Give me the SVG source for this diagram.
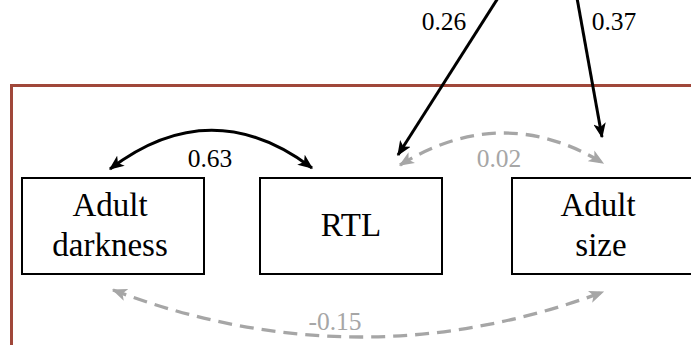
<svg xmlns="http://www.w3.org/2000/svg" width="691" height="345" viewBox="0 0 691 345">
<style>
.box{fill:#fff;stroke:#000;stroke-width:2}
.t{font-size:33px;fill:#000;text-anchor:middle}
.lbl{font-size:25.5px;fill:#000;text-anchor:middle}
.lg{fill:#a6a6a6}
.solid{fill:none;stroke:#000;stroke-width:3}
.dash{fill:none;stroke:#a6a6a6;stroke-width:3.3;stroke-dasharray:14 8}
</style>
<defs>
<marker id="ab" viewBox="0 0 12 10" refX="11" refY="5" markerWidth="5" markerHeight="4.2" orient="auto-start-reverse" markerUnits="strokeWidth">
<path d="M0,0 L12,5 L0,10 L3,5 Z" fill="#000"/>
</marker>
<marker id="ag" viewBox="0 0 12 10" refX="11" refY="5" markerWidth="4.6" markerHeight="3.9" orient="auto-start-reverse" markerUnits="strokeWidth">
<path d="M0,0 L12,5 L0,10 L3,5 Z" fill="#a6a6a6"/>
</marker>
</defs>
<g id="frame"><path d="M11.5,345 V85.5 H691" fill="none" stroke="#a0473a" stroke-width="3"/></g>
<g id="connectors">
<path class="solid" d="M498,-2 L398,155" marker-end="url(#ab)"/>
<path class="solid" d="M577,-2 L602,137" marker-end="url(#ab)"/>
<path class="solid" d="M110,169 Q211,92 312,168" marker-start="url(#ab)" marker-end="url(#ab)"/>
<path class="dash" d="M400,165 Q502,102 603,163" marker-start="url(#ag)" marker-end="url(#ag)"/>
<path class="dash" d="M113,290 Q358,383 603,292" marker-start="url(#ag)" marker-end="url(#ag)"/>
<text class="lbl" font-family="Liberation Serif" x="444" y="30">0.26</text>
<text class="lbl" font-family="Liberation Serif" x="614" y="30">0.37</text>
<text class="lbl" font-family="Liberation Serif" x="210" y="167">0.63</text>
<text class="lbl lg" font-family="Liberation Serif" x="499" y="167">0.02</text>
<text class="lbl lg" font-family="Liberation Serif" x="335" y="330">-0.15</text>
</g>
<g id="adult-darkness"><rect class="box" x="22" y="178" width="182" height="96"/><text class="t" font-family="Liberation Serif" x="110" y="216">Adult</text><text class="t" font-family="Liberation Serif" x="110" y="256">darkness</text></g>
<g id="rtl"><rect class="box" x="260" y="178" width="182" height="96"/><text class="t" font-family="Liberation Serif" x="351" y="236">RTL</text></g>
<g id="adult-size"><rect class="box" x="512" y="178" width="182" height="96"/><text class="t" font-family="Liberation Serif" x="598" y="216">Adult</text><text class="t" font-family="Liberation Serif" x="601" y="256">size</text></g>
</svg>
